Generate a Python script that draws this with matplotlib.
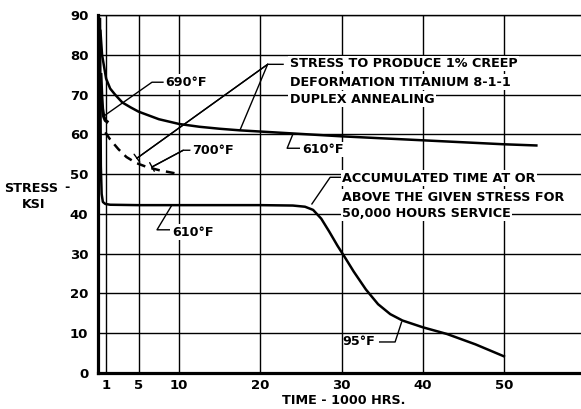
import numpy as np
import matplotlib
matplotlib.use("Agg")
import matplotlib.pyplot as plt

# time in 1000 hrs, stress in ksi
t_610_creep = [0.3, 0.5, 1.0, 1.5, 2.1, 3.0, 4.0, 5.0, 7.5, 10, 12.5, 15, 17.5, 20, 22.5, 25, 30, 40, 50, 54]
s_610_creep = [86, 80, 74, 71.5, 70, 68, 66.8, 65.7, 63.8, 62.6, 61.9, 61.4, 61.0, 60.7, 60.4, 60.1, 59.5, 58.5, 57.5, 57.2]

t_690_creep = [0.35, 0.45, 0.55, 0.7, 0.9, 1.1]
s_690_creep = [75, 70, 66.5, 64.5, 63.5, 63.2]

t_700_creep = [0.9, 1.5, 2.5, 3.5, 4.7, 6, 7.5, 10]
s_700_creep = [60.5, 58.7, 56.3, 54.3, 52.8, 51.8, 51.0, 50.0]

t_accum = [0.25, 0.3, 0.35, 0.45, 0.6, 0.9, 1.5, 5, 10, 20, 24, 25.5, 26.5, 27.5, 28.5,
           29.5, 30.5, 31.5, 33, 34.5, 36, 37.5, 40, 43, 46.5, 50]
s_accum = [89, 70, 52, 45, 43, 42.5, 42.3, 42.2, 42.2, 42.2, 42.1, 41.8, 41.0, 38.8, 35.5,
           32.0, 28.8, 25.5, 21.0, 17.3, 14.8, 13.2, 11.5, 9.8, 7.2, 4.2]

x_ticks = [1, 5, 10, 20, 30, 40, 50]
y_ticks = [0, 10, 20, 30, 40, 50, 60, 70, 80, 90]

plt.rcParams['font.family'] = ['DejaVu Sans']
plt.rcParams['font.weight'] = 'bold'
FS = 9.2

fig = plt.figure(figsize=(5.81, 4.09), dpi=100)
ax = fig.add_axes([98 / 581, 36 / 409, 483 / 581, 358 / 409])
ax.set_xlim(0, 59.5)
ax.set_ylim(0, 90)

ax.set_xticks(x_ticks)
ax.set_yticks(y_ticks)
ax.tick_params(length=0, labelsize=9.5, pad=4)
ax.tick_params(axis='y', pad=7)
ax.grid(True, color='black', lw=1.0)
ax.spines['right'].set_visible(False)
ax.spines['top'].set_linewidth(1.0)
ax.spines['left'].set_linewidth(2.3)
ax.spines['bottom'].set_linewidth(2.3)

ax.plot(t_610_creep, s_610_creep, color='black', lw=1.8, zorder=3)
ax.plot(t_690_creep, s_690_creep, color='black', lw=2.4, zorder=3)
ax.plot(t_700_creep, s_700_creep, color='black', lw=1.8, ls=(0, (3.5, 2.5)), zorder=3)
ax.plot(t_accum, s_accum, color='black', lw=1.8, zorder=3)

lead = dict(color='black', lw=1.0, zorder=4)
box = dict(facecolor='white', edgecolor='none', pad=1.0)


def leader(xs, ys, bar=False):
    ax.plot(xs, ys, **lead)
    if bar:
        ax.annotate('', xy=(xs[-1], ys[-1]), xytext=(xs[-2], ys[-2]),
                    arrowprops=dict(arrowstyle='-[, widthB=0.35, lengthB=0', lw=1.0,
                                    color='black', shrinkA=0, shrinkB=0), zorder=4)


def label(x, y, s):
    ax.text(x, y, s, fontsize=FS, ha='left', va='center', bbox=box, zorder=5)


# 690F
leader([8.0, 6.65, 0.86], [73.1, 73.1, 64.8])
label(8.25, 73.1, '690°F')

# 700F
leader([11.3, 10.5, 6.65], [56.0, 56.0, 51.8], bar=True)
label(11.6, 56.0, '700°F')

# creep title and its two pointers
leader([22.8, 20.9, 4.8], [77.6, 77.6, 54.0], bar=True)
leader([20.9, 17.5], [77.6, 61.1])
label(23.6, 77.8, 'STRESS TO PRODUCE 1% CREEP')
label(23.6, 73.1, 'DEFORMATION TITANIUM 8-1-1')
label(23.6, 68.8, 'DUPLEX ANNEALING')

# 610F on creep curve
leader([24.0, 23.3, 24.9], [60.0, 56.5, 56.5])
label(25.1, 56.2, '610°F')

# 610F on accumulated time curve
leader([9.1, 7.27, 8.9], [42.2, 36.0, 36.0])
label(9.1, 35.4, '610°F')

# accumulated time note
leader([30.0, 28.6, 26.35], [49.2, 49.2, 42.5])
label(30.05, 49.0, 'ACCUMULATED TIME AT OR')
label(30.05, 44.2, 'ABOVE THE GIVEN STRESS FOR')
label(30.05, 40.2, '50,000 HOURS SERVICE')

# 95F
leader([34.7, 36.6, 37.4], [7.8, 7.8, 12.8])
ax.text(30.05, 7.8, '95°F', fontsize=FS, ha='left', va='center', zorder=5)

fig.text(31 / 581, 1 - 188 / 409, 'STRESS', fontsize=FS, ha='center', va='center')
fig.text(67 / 581, 1 - 188 / 409, '-', fontsize=FS, ha='center', va='center')
fig.text(34 / 581, 1 - 205 / 409, 'KSI', fontsize=FS, ha='center', va='center')
fig.text(344 / 581, 1 - 400 / 409, 'TIME - 1000 HRS.', fontsize=FS, ha='center', va='center')

fig.savefig('out.png', dpi=100)
